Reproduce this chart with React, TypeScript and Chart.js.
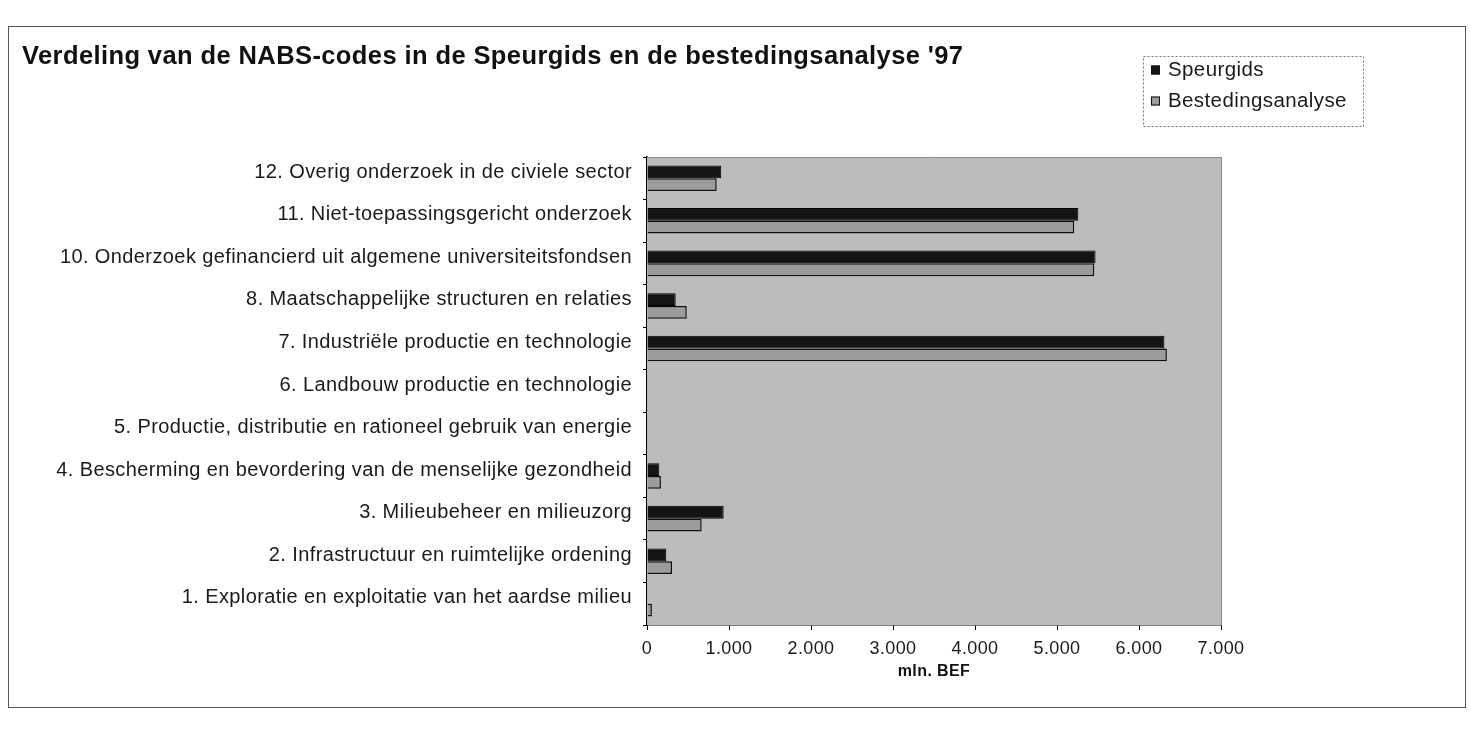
import React, { useEffect, useRef } from "react";
import { Chart, registerables } from "chart.js";

Chart.register(...registerables);

const TITLE = "Verdeling van de NABS-codes in de Speurgids en de bestedingsanalyse '97";
const AXIS_TITLE = "mln. BEF";

const categories = [
  "12. Overig onderzoek in de civiele sector",
  "11. Niet-toepassingsgericht onderzoek",
  "10. Onderzoek gefinancierd uit algemene universiteitsfondsen",
  "8. Maatschappelijke structuren en relaties",
  "7. Industriële productie en technologie",
  "6. Landbouw productie en technologie",
  "5. Productie, distributie en rationeel gebruik van energie",
  "4. Bescherming en bevordering van de menselijke gezondheid",
  "3. Milieubeheer en milieuzorg",
  "2. Infrastructuur en ruimtelijke ordening",
  "1. Exploratie en exploitatie van het aardse milieu",
];

const seriesNames = ["Speurgids", "Bestedingsanalyse"];
const speurgids = [905, 5260, 5470, 350, 6310, 0, 0, 150, 935, 235, 0];
const bestedingsanalyse = [850, 5210, 5455, 485, 6340, 0, 0, 170, 667, 305, 60];

const xTicks = [0, 1000, 2000, 3000, 4000, 5000, 6000, 7000];

const FONT = '"Liberation Sans", Arial, sans-serif';

function fmt(v: number): string {
  const s = Math.round(v).toString();
  return s.replace(/\B(?=(\d{3})+(?!\d))/g, ".");
}

const spacing = {
  id: "spacing",
  beforeDraw(chart: any) {
    try {
      (chart.ctx as any).letterSpacing = "0.4px";
    } catch (e) {}
  },
};

const plotBg = {
  id: "plotBg",
  beforeDatasetsDraw(chart: any) {
    const { ctx, chartArea } = chart;
    ctx.save();
    ctx.fillStyle = "#bcbcbc";
    ctx.fillRect(chartArea.left, chartArea.top, chartArea.right - chartArea.left, chartArea.bottom - chartArea.top);
    ctx.strokeStyle = "#8a8a8a";
    ctx.lineWidth = 1;
    ctx.beginPath();
    ctx.moveTo(chartArea.left, chartArea.top + 0.5);
    ctx.lineTo(chartArea.right + 0.5, chartArea.top + 0.5);
    ctx.lineTo(chartArea.right + 0.5, chartArea.bottom);
    ctx.stroke();
    ctx.restore();
  },
};

const boxLegend = {
  id: "boxLegend",
  afterDraw(chart: any) {
    const { ctx } = chart;
    const x = 1143, y = 56, w = 220, h = 70;
    ctx.save();
    ctx.setLineDash([2, 2]);
    ctx.strokeStyle = "#777";
    ctx.lineWidth = 1;
    ctx.strokeRect(x + 0.5, y + 0.5, w, h);
    ctx.setLineDash([]);
    const rows = [70, 101];
    chart.data.datasets.forEach((ds: any, i: number) => {
      const cy = rows[i];
      ctx.fillStyle = ds.backgroundColor;
      ctx.fillRect(x + 8, cy - 4.5, 9, 9);
      ctx.strokeStyle = "#111";
      ctx.strokeRect(x + 8.5, cy - 4, 8, 8);
      ctx.fillStyle = "#1a1a1a";
      ctx.font = `20.5px ${FONT}`;
      ctx.textBaseline = "middle";
      ctx.textAlign = "left";
      ctx.fillText(ds.label, x + 25, cy);
    });
    ctx.restore();
  },
};

export default function App() {
  const ref = useRef<HTMLCanvasElement | null>(null);

  useEffect(() => {
    if (!ref.current) return;
    Chart.defaults.font.family = FONT;
    const chart = new Chart(ref.current, {
      type: "bar",
      data: {
        labels: categories,
        datasets: [
          {
            label: seriesNames[0],
            data: speurgids,
            backgroundColor: "#141414",
            borderColor: "#000",
            borderWidth: 1,
            categoryPercentage: 0.6,
            barPercentage: 1.0,
          },
          {
            label: seriesNames[1],
            data: bestedingsanalyse,
            backgroundColor: "#9c9c9c",
            borderColor: "#111",
            borderWidth: 1.5,
            categoryPercentage: 0.6,
            barPercentage: 1.0,
          },
        ],
      },
      options: {
        indexAxis: "y",
        responsive: false,
        animation: false,
        layout: { padding: { left: 22, right: 250, top: 0, bottom: 20 } },
        plugins: {
          legend: { display: false },
          tooltip: { enabled: false },
          title: {
            display: true,
            text: TITLE,
            align: "start",
            color: "#111",
            font: { family: FONT, size: 25.5, weight: "bold" },
            padding: { top: 42, bottom: 84.4 },
          },
        },
        scales: {
          x: {
            min: 0,
            max: 7000,
            afterBuildTicks(scale: any) {
              scale.ticks = xTicks.map((v) => ({ value: v }));
            },
            afterFit(scale: any) {
              scale.height = 100;
            },
            grid: { display: true, drawOnChartArea: false, color: "#000", tickLength: 5 },
            border: { display: true, color: "#000", width: 1.5 },
            ticks: {
              color: "#1a1a1a",
              font: { size: 18 },
              padding: 8,
              maxRotation: 0,
              callback: (v: any) => fmt(Number(v)),
            },
            title: {
              display: true,
              text: AXIS_TITLE,
              color: "#111",
              font: { size: 16, weight: "bold" },
              padding: { top: 0, bottom: 44 },
            },
          },
          y: {
            afterFit(scale: any) {
              scale.width = 625;
            },
            grid: { display: true, drawOnChartArea: false, color: "#000", tickLength: 4 },
            border: { display: true, color: "#000", width: 1.5 },
            ticks: {
              color: "#1a1a1a",
              font: { size: 20 },
              padding: 11,
              labelOffset: -6,
              autoSkip: false,
            },
          },
        },
      },
      plugins: [spacing, plotBg, boxLegend],
    });
    return () => chart.destroy();
  }, []);

  return (
    <div style={{ position: "absolute", left: 0, top: 0, width: 1471, height: 745, background: "#fff" }}>
      <div
        style={{
          position: "absolute",
          left: 8,
          top: 26,
          width: 1456,
          height: 680,
          border: "1px solid #555",
        }}
      />
      <canvas ref={ref} width={1471} height={745} style={{ position: "absolute", left: 0, top: 0 }} />
    </div>
  );
}
